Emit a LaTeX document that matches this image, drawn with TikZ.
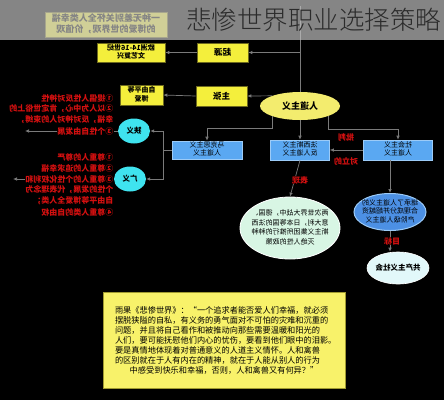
\documentclass[tikz,border=0pt]{standalone}
\usepackage{fontspec}
\usepackage{graphicx}
\setmainfont{Noto Sans CJK SC}
\IfFontExistsTF{Noto Sans CJK SC Light}{\newfontfamily\titlefont{Noto Sans CJK SC Light}}{\newfontfamily\titlefont{Noto Sans CJK SC}}
\usetikzlibrary{arrows.meta,shapes.geometric}
\XeTeXlinebreaklocale "zh"
\XeTeXlinebreakskip=0pt plus 1pt
\definecolor{yel}{HTML}{F4EF3C}
\definecolor{ybord}{HTML}{6E6A1E}
\definecolor{ell}{HTML}{F3EC6E}
\definecolor{bluebox}{HTML}{5AA8F2}
\definecolor{bbord}{HTML}{9CCBF7}
\definecolor{cyanc}{HTML}{3FE3EF}
\definecolor{redt}{HTML}{D41010}
\definecolor{greenell}{HTML}{D8F6E4}
\definecolor{blueellc}{HTML}{4C90E4}
\definecolor{endellc}{HTML}{E2F8FA}
\definecolor{qyel}{HTML}{F8F26A}
\definecolor{qbord}{HTML}{A09A30}
\definecolor{linec}{HTML}{7A7A7A}
\definecolor{bannerc}{RGB}{193,193,193}
\definecolor{titlec}{HTML}{2B2B2B}
\newcommand\mir[1]{\reflectbox{#1}}
\newcommand\mirc[1]{\reflectbox{\begin{tabular}{@{}c@{}}#1\end{tabular}}}
\begin{document}
\begin{tikzpicture}[x=1pt,y=-1pt,
  ybox/.style={rectangle, draw=ybord, line width=0.6pt, fill=yel, inner sep=0pt, font=\bfseries\fontsize{8.5}{9.5}\selectfont},
  bbox/.style={rectangle, draw=bbord, line width=0.6pt, fill=bluebox, inner sep=0pt, font=\fontsize{7}{8.5}\selectfont},
  circ/.style={ellipse, fill=cyanc, inner sep=0pt, minimum width=32pt, minimum height=25pt, font=\bfseries\fontsize{7.5}{9}\selectfont},
  redline/.style={anchor=east, text=redt, fill=black, inner sep=0.5pt, font=\bfseries\fontsize{8}{9}\selectfont},
  redlab/.style={text=redt, fill=black, inner sep=0.5pt, font=\bfseries\fontsize{8}{9}\selectfont},
  conn/.style={draw=linec, line width=0.7pt},
  arr/.style={conn, -{Latex[length=4pt,width=3.5pt]}}]
\useasboundingbox (0,0) rectangle (444,400);
\fill[black] (0,0) rectangle (444,400);

% top boxes
\node[ybox, minimum width=122pt, minimum height=25pt, font=\bfseries\fontsize{9}{10.5}\selectfont] (def) at (106,25) {\mirc{一种无差别关怀全人类幸福\\的博爱的世界观，价值观}};
\node[ybox, minimum width=51pt, minimum height=19pt] (qiyuan) at (222.5,52.5) {\mir{起源}};
\node[ybox, minimum width=68pt, minimum height=19pt, font=\bfseries\fontsize{7}{8}\selectfont] (wenyi) at (131,52.5) {\mirc{欧洲14-16世纪\\文艺复兴}};
\node[ybox, minimum width=51pt, minimum height=20pt] (zhuzhang) at (221.5,96) {\mir{主张}};
\node[ybox, minimum width=43pt, minimum height=20pt, font=\bfseries\fontsize{7}{8}\selectfont] (ziyou) at (141.5,95) {\mirc{自由平等\\博爱}};
\node[ellipse, fill=ell, minimum width=80pt, minimum height=28pt, inner sep=0pt, font=\bfseries\fontsize{9}{10}\selectfont] (rendao) at (300,106) {\mir{人道主义}};

% blue boxes
\node[bbox, minimum width=70pt, minimum height=18pt] (mks) at (207,150) {\mirc{马克思主义\\人道主义}};
\node[bbox, minimum width=59pt, minimum height=20pt] (mid) at (300,150) {\mirc{法西斯主义\\反人道主义}};
\node[bbox, minimum width=69pt, minimum height=20pt] (zb) at (398,150) {\mirc{社会主义\\人道主义}};

% circles
\node[circ] (xiayi) at (134,131) {\mir{狭义}};
\node[circ] (guangyi) at (130,179) {\mir{广义}};

% lower ellipses
\node[ellipse, fill=greenell, draw=white, line width=0.8pt, minimum width=100pt, minimum height=62pt, inner xsep=-8pt, inner ysep=0pt, font=\fontsize{7}{9.5}\selectfont] (green) at (290,228) {\mirc{两次世界大战中，德国、\\意大利，日本等国的法西\\斯主义集团所推行的种种\\灭绝人性的政策}};
\node[ellipse, fill=blueellc, draw=bbord, line width=1pt, minimum width=72pt, minimum height=37pt, inner xsep=-6pt, inner ysep=0pt, font=\fontsize{7}{8.5}\selectfont] (blue) at (390,212) {\mirc{继承了人道主义的\\合理成分并超越资\\产阶级人道主义}};
\node[ellipse, fill=endellc, draw=white, line width=0.6pt, minimum width=62pt, minimum height=32pt, inner xsep=-3pt, inner ysep=0pt, font=\bfseries\fontsize{7.5}{9}\selectfont] (endn) at (398,268) {\mir{共产主义社会}};

% connectors
\coordinate (top) at (300,6);
\coordinate (jq) at (300,52.5);
\coordinate (lb) at (207,128);
\coordinate (rb) at (398,129);
\coordinate (lj) at (163,150);
\coordinate (xl) at (25,131);
\coordinate (gl) at (13,179);
\draw[conn] (rendao.north) -- (top);
\draw[arr] (jq) -- (qiyuan.east);
\draw[arr] (qiyuan.west) -- (wenyi.east);
\draw[arr] (rendao.160) -- (zhuzhang.east);
\draw[arr] (zhuzhang.west) -- (ziyou.east);
\draw[arr] (rendao.200) |- (lb) -- (mks.north);
\draw[arr] (rendao.south) -- (mid.north);
\draw[arr] (rendao.340) |- (rb) -- (zb.north);
\draw[conn] (mks.west) -- (lj);
\draw[arr] (lj) |- (xiayi.east);
\draw[arr] (lj) |- (guangyi.east);
\draw[arr] (zb.west) -- (mid.east);
\draw[arr] (mid.south) -- (green.north);
\draw[arr] (zb.south -| blue.north) -- (blue.north);
\draw[arr] (blue.south) -- (blue.south |- endn.north);
\draw[arr] (xiayi.west) -- (xl);
\draw[arr] (guangyi.west) -- (gl);

% red labels
\node[redlab] (lab1) at (346,137) {\mir{批判}};
\node[redlab] (lab2) at (346,161) {\mir{对立的}};
\node[redlab] (lab3) at (300,180) {\mir{表现}};
\node[redlab] (lab4) at (392,241) {\mir{目标}};

% red descriptions
\foreach \rly/\rtx in {98/{①提倡人性反对神性}, 109/{②以人为中心，肯定世俗上的}, 120/{幸福，反对神对人的束缚，}, 131/{③个性自由发展}}
  \node[redline] (xr-\rly) at (114,\rly) {\mir{\rtx}};
\foreach \rly/\rtx in {157/{①尊重人的尊严}, 168/{②尊重人的追求幸福}, 179/{③尊重人的个性化权利和}, 190/{个性的发展，代表理念为}, 201/{自由平等博爱全人类；}, 212/{④尊重人类的自由权}}
  \node[redline] (gr-\rly) at (114,\rly) {\mir{\rtx}};

% quote box
\node[rectangle, fill=qyel, draw=qbord, line width=0.8pt, minimum width=242pt, minimum height=96pt, inner sep=0pt, font=\fontsize{8.2}{10}\selectfont] (quote) at (224,340) {\parbox{218pt}{%
\makebox[218pt][s]{雨果《悲惨世界》：“一个追求者能否爱人们幸福，就必须}\\
\makebox[218pt][s]{摆脱狭隘的自私，有义务的勇气面对不可怕的灾难和沉重的}\\
\makebox[218pt][s]{问题，并且将自己看作和被推动向那些需要温暖和阳光的}\\
\makebox[218pt][s]{人们，要可能抚慰他们内心的忧伤，要看到他们眼中的泪影。}\\
\makebox[218pt][s]{要是真情地体现着对普通意义的人道主义情怀。人和禽兽}\\
\makebox[218pt][s]{的区别就在于人有内在的精神，就在于人能从别人的行为}\\
\makebox[218pt][c]{中感受到快乐和幸福，否则，人和禽兽又有何异？”}}};

% banner
\fill[bannerc, opacity=0.69] (0,0) rectangle (444,40);
\node[anchor=west, inner sep=0pt, text=titlec, font=\titlefont\fontsize{25.5}{26}\selectfont] (title) at (186,20) {悲惨世界职业选择策略};
\end{tikzpicture}
\end{document}
